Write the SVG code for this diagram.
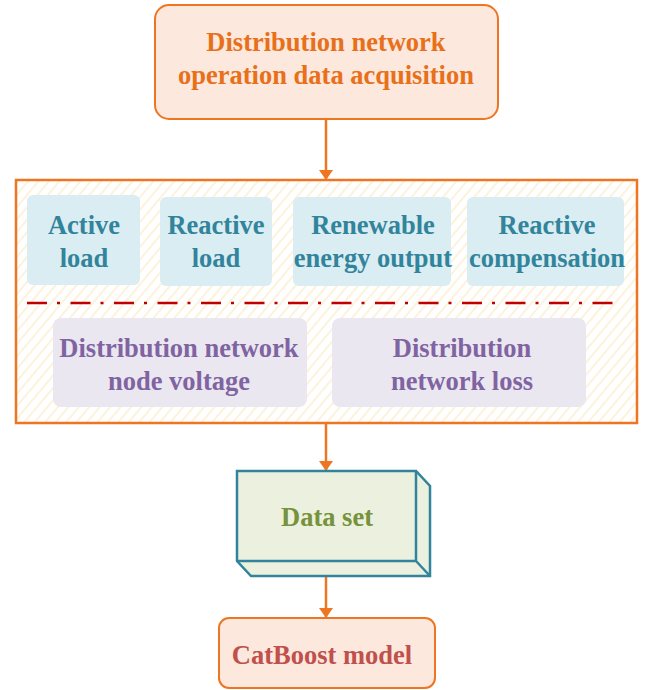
<svg xmlns="http://www.w3.org/2000/svg" width="648" height="690" viewBox="0 0 648 690">
  <defs>
    <marker id="arrow" viewBox="0 0 10 14" refX="10" refY="7" markerWidth="10" markerHeight="14" markerUnits="userSpaceOnUse" orient="auto">
      <path d="M0,0 L10,7 L0,14 Z" fill="#ee7623"/>
    </marker>
    <pattern id="hatch" width="8" height="8" patternUnits="userSpaceOnUse" patternTransform="rotate(40)">
      <rect width="8" height="8" fill="#ffffff"/>
      <line x1="2" y1="0" x2="2" y2="8" stroke="#fdefd2" stroke-width="1.6"/>
    </pattern>
  </defs>

  <!-- connectors -->
  <g id="connectors" stroke="#ee7623" stroke-width="2.5" fill="none">
    <line x1="326" y1="119" x2="326" y2="180" marker-end="url(#arrow)"/>
    <line x1="326" y1="423" x2="326" y2="471" marker-end="url(#arrow)"/>
    <line x1="326" y1="576" x2="326" y2="618" marker-end="url(#arrow)"/>
  </g>

  <g id="acquisition">
    <rect x="155" y="5" width="343" height="114" rx="14" fill="#fce8dc" stroke="#ee7623" stroke-width="2"/>
    <text x="326" y="51" fill="#e8701a" font-family="Liberation Serif, serif" font-weight="bold" font-size="26.5" text-anchor="middle">Distribution network</text>
    <text x="326" y="84" fill="#e8701a" font-family="Liberation Serif, serif" font-weight="bold" font-size="26.5" text-anchor="middle">operation data acquisition</text>
  </g>

  <g id="data-container">
    <rect x="16" y="180" width="621" height="243" fill="url(#hatch)" stroke="#ee7623" stroke-width="2.5"/>
    <line x1="27" y1="303" x2="617" y2="303" stroke="#c00000" stroke-width="2.5" stroke-dasharray="20 10 3 10.5"/>
  </g>

  <g id="active-load">
    <rect x="27" y="195" width="113" height="90" rx="6" fill="#daedf2"/>
    <text x="84" y="234" fill="#31849b" font-family="Liberation Serif, serif" font-weight="bold" font-size="26.5" text-anchor="middle">Active</text>
    <text x="84" y="267" fill="#31849b" font-family="Liberation Serif, serif" font-weight="bold" font-size="26.5" text-anchor="middle">load</text>
  </g>

  <g id="reactive-load">
    <rect x="160" y="197" width="112" height="89" rx="6" fill="#daedf2"/>
    <text x="216" y="234" fill="#31849b" font-family="Liberation Serif, serif" font-weight="bold" font-size="26.5" text-anchor="middle">Reactive</text>
    <text x="216" y="267" fill="#31849b" font-family="Liberation Serif, serif" font-weight="bold" font-size="26.5" text-anchor="middle">load</text>
  </g>

  <g id="renewable-output">
    <rect x="293" y="197" width="158" height="89" rx="6" fill="#daedf2"/>
    <text x="373" y="234" fill="#31849b" font-family="Liberation Serif, serif" font-weight="bold" font-size="26.5" text-anchor="middle">Renewable</text>
    <text x="373" y="267" fill="#31849b" font-family="Liberation Serif, serif" font-weight="bold" font-size="26.5" text-anchor="middle">energy output</text>
  </g>

  <g id="reactive-compensation">
    <rect x="467" y="197" width="157" height="89" rx="6" fill="#daedf2"/>
    <text x="547" y="234" fill="#31849b" font-family="Liberation Serif, serif" font-weight="bold" font-size="26.5" text-anchor="middle">Reactive</text>
    <text x="547" y="267" fill="#31849b" font-family="Liberation Serif, serif" font-weight="bold" font-size="26.5" text-anchor="middle">compensation</text>
  </g>

  <g id="node-voltage">
    <rect x="53" y="318" width="254" height="89" rx="8" fill="#ebe7f0"/>
    <text x="179" y="357" fill="#8064a2" font-family="Liberation Serif, serif" font-weight="bold" font-size="26.5" text-anchor="middle">Distribution network</text>
    <text x="179" y="390" fill="#8064a2" font-family="Liberation Serif, serif" font-weight="bold" font-size="26.5" text-anchor="middle">node voltage</text>
  </g>

  <g id="network-loss">
    <rect x="332" y="318" width="254" height="89" rx="8" fill="#ebe7f0"/>
    <text x="462" y="357" fill="#8064a2" font-family="Liberation Serif, serif" font-weight="bold" font-size="26.5" text-anchor="middle">Distribution</text>
    <text x="462" y="390" fill="#8064a2" font-family="Liberation Serif, serif" font-weight="bold" font-size="26.5" text-anchor="middle">network loss</text>
  </g>

  <g id="data-set">
    <path d="M237,471 L416,471 L430,486 L430,576 L251,576 L237,561 Z" fill="#ebf1de" stroke="#31849b" stroke-width="2.5"/>
    <path d="M416,471 L416,561 L237,561 M416,561 L430,576" fill="none" stroke="#31849b" stroke-width="2.5"/>
    <text x="327" y="526" fill="#76923c" font-family="Liberation Serif, serif" font-weight="bold" font-size="26.5" text-anchor="middle">Data set</text>
  </g>

  <g id="catboost">
    <rect x="219" y="618" width="216" height="70" rx="10" fill="#fce8dc" stroke="#ee7623" stroke-width="2"/>
    <text x="322" y="664" fill="#c0504d" font-family="Liberation Serif, serif" font-weight="bold" font-size="26.5" text-anchor="middle">CatBoost model</text>
  </g>
</svg>
